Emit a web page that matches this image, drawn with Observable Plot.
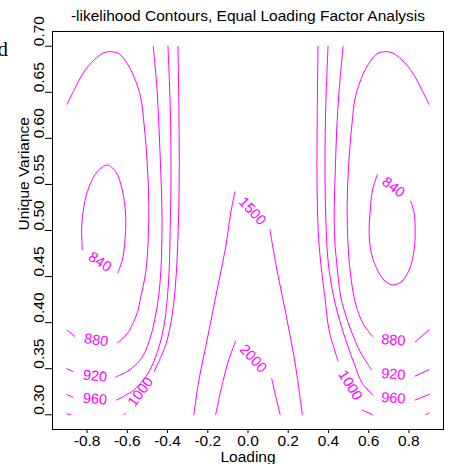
<!DOCTYPE html>
<html><head><meta charset="utf-8">
<script src="https://cdn.jsdelivr.net/npm/d3@7"></script>
<script src="https://cdn.jsdelivr.net/npm/@observablehq/plot@0.6"></script>
<style>body{margin:0;background:#fff}#chart{width:458px;height:464px}</style>
</head><body><div id="chart"></div>
<script>
// ---- data (Loading, Unique Variance) ----
const xTicks = [-0.8, -0.6, -0.4, -0.2, 0, 0.2, 0.4, 0.6, 0.8];
const yTicks = [0.30, 0.35, 0.40, 0.45, 0.50, 0.55, 0.60, 0.65, 0.70];
const levels = [840, 880, 920, 960, 1000, 1500, 2000];

const c840L = [[-0.824,0.479],[-0.827,0.504],[-0.816,0.526],[-0.791,0.547],[-0.749,0.564],[-0.700,0.571],[-0.658,0.564],[-0.625,0.544],[-0.608,0.515],[-0.613,0.486],[-0.625,0.468],[-0.647,0.454]];
const c840R = [[0.644,0.561],[0.619,0.544],[0.607,0.519],[0.602,0.500],[0.610,0.479],[0.635,0.461],[0.677,0.446],[0.718,0.441],[0.760,0.444],[0.801,0.457],[0.826,0.479],[0.831,0.500],[0.826,0.519],[0.809,0.532]];

const c880La = [[-0.900,0.637],[-0.866,0.652],[-0.816,0.672],[-0.766,0.685],[-0.716,0.693],[-0.680,0.694],[-0.642,0.692],[-0.600,0.681],[-0.567,0.667],[-0.534,0.645],[-0.517,0.616],[-0.500,0.569],[-0.493,0.526],[-0.498,0.482],[-0.509,0.454],[-0.534,0.427],[-0.550,0.411],[-0.575,0.398],[-0.600,0.388],[-0.650,0.378]];
const c880Lb = [[-0.861,0.385],[-0.900,0.392]];
const c880Ra = [[0.900,0.637],[0.866,0.652],[0.816,0.672],[0.766,0.685],[0.716,0.693],[0.680,0.694],[0.642,0.692],[0.600,0.681],[0.567,0.667],[0.534,0.645],[0.517,0.616],[0.500,0.569],[0.493,0.526],[0.498,0.482],[0.509,0.454],[0.527,0.428],[0.550,0.410],[0.577,0.397],[0.619,0.385]];
const c880Rb = [[0.831,0.379],[0.900,0.392]];

const c920La = [[-0.900,0.350],[-0.871,0.347]];
const c920Lb = [[-0.658,0.341],[-0.608,0.346],[-0.559,0.354],[-0.517,0.366],[-0.484,0.385],[-0.462,0.405],[-0.444,0.429],[-0.433,0.457],[-0.428,0.490],[-0.428,0.525],[-0.434,0.565],[-0.442,0.609],[-0.452,0.652],[-0.471,0.700]];
const c920Ra = [[0.473,0.700],[0.453,0.652],[0.441,0.609],[0.434,0.565],[0.429,0.525],[0.431,0.490],[0.441,0.465],[0.461,0.428],[0.486,0.408],[0.511,0.392],[0.561,0.367],[0.614,0.349]];
const c920Rb = [[0.831,0.342],[0.900,0.349]];

const c960La = [[-0.900,0.322],[-0.871,0.319]];
const c960Lb = [[-0.653,0.316],[-0.567,0.327],[-0.500,0.344],[-0.451,0.368],[-0.419,0.395],[-0.402,0.425],[-0.392,0.457],[-0.387,0.500],[-0.383,0.555],[-0.385,0.620],[-0.391,0.663],[-0.398,0.700]];
const c960Ra = [[0.398,0.700],[0.391,0.663],[0.385,0.620],[0.383,0.555],[0.389,0.500],[0.399,0.465],[0.426,0.428],[0.470,0.392],[0.527,0.356],[0.569,0.334],[0.619,0.322]];
const c960Rb = [[0.831,0.316],[0.900,0.322]];

const c1000La = [[-0.348,0.700],[-0.343,0.620],[-0.342,0.555],[-0.347,0.500],[-0.357,0.452],[-0.377,0.408],[-0.409,0.376],[-0.467,0.347]];
const c1000Lb = [[-0.608,0.302],[-0.617,0.300]];
const c1000Lc = [[-0.900,0.301],[-0.882,0.300]];
const c1000Ra = [[0.348,0.700],[0.344,0.620],[0.343,0.555],[0.349,0.500],[0.362,0.464],[0.382,0.428],[0.403,0.392],[0.448,0.358]];
const c1000Rb = [[0.569,0.305],[0.619,0.300]];
const c1000Rc = [[0.884,0.300],[0.900,0.302]];

const c1500L = [[-0.065,0.542],[-0.086,0.519],[-0.111,0.482],[-0.144,0.446],[-0.177,0.410],[-0.210,0.374],[-0.244,0.338],[-0.269,0.300]];
const c1500R = [[0.109,0.501],[0.138,0.464],[0.171,0.428],[0.204,0.392],[0.237,0.352],[0.270,0.300]];
const c2000L = [[-0.061,0.380],[-0.095,0.360],[-0.127,0.334],[-0.161,0.300]];
const c2000R = [[0.118,0.339],[0.138,0.320],[0.160,0.300]];

// contour labels: level, position (data units), text angle
const labelLevel = [840, 840, 880, 880, 920, 920, 960, 960, 1000, 1000, 1500, 2000];
const labelX     = [-0.736, 0.723, -0.755, 0.723, -0.761, 0.723, -0.761, 0.723, -0.534, 0.508, 0.022, 0.026];
const labelY     = [0.466, 0.547, 0.381, 0.381, 0.342, 0.344, 0.317, 0.318, 0.325, 0.332, 0.521, 0.361];
const labelAngle = [33, 38, 8, 4, 6, 4, 5, 4, -54, 58, 47, 47];

const title = "-likelihood Contours, Equal Loading Factor Analysis";
const xLabel = "Loading";
const yLabel = "Unique Variance";

// ---- build tables ----
const segments = [
  [840, c840L], [840, c840R],
  [880, c880La], [880, c880Lb], [880, c880Ra], [880, c880Rb],
  [920, c920La], [920, c920Lb], [920, c920Ra], [920, c920Rb],
  [960, c960La], [960, c960Lb], [960, c960Ra], [960, c960Rb],
  [1000, c1000La], [1000, c1000Lb], [1000, c1000Lc], [1000, c1000Ra], [1000, c1000Rb], [1000, c1000Rc],
  [1500, c1500L], [1500, c1500R], [2000, c2000L], [2000, c2000R]
];
const rows = segments.flatMap(([level, pts], i) => pts.map(([x, y]) => ({seg: i, level, x, y})));
const labels = labelLevel.map((level, i) => ({level, x: labelX[i], y: labelY[i], angle: labelAngle[i]}));

const magenta = "#ff00ff";
const font = "'Liberation Sans', Arial, Helvetica, sans-serif";

const chart = Plot.plot({
  width: 458, height: 464,
  marginLeft: 52, marginRight: 15, marginTop: 31, marginBottom: 35,
  style: {fontFamily: font, background: "#fff", color: "#000", overflow: "visible"},
  x: {domain: [-0.972, 0.972], axis: null},
  y: {domain: [0.284, 0.716], axis: null},
  marks: [
    Plot.line(rows, {x: "x", y: "y", z: "seg", stroke: magenta, strokeWidth: 1, curve: "catmull-rom"}),
    Plot.text(labels, {x: "x", y: "y", text: d => String(d.level), rotate: "angle", fill: magenta, fontSize: 14.5}),
    Plot.frame({stroke: "#000"}),
    Plot.axisX({ticks: xTicks, tickSize: 4, fill: "none", stroke: "#000"}),
    Plot.axisY({ticks: yTicks, tickSize: 7, fill: "none", stroke: "#000"}),
    Plot.text(xTicks, {x: d => d, frameAnchor: "bottom", lineAnchor: "top", dy: 5, text: d => d.toFixed(1), fontSize: 15.5, fill: "#000"}),
    Plot.text(yTicks, {y: d => d, frameAnchor: "left", lineAnchor: "bottom", dx: -9, rotate: -90, text: d => d.toFixed(2), fontSize: 15.5, fill: "#000"}),
    Plot.text([xLabel], {frameAnchor: "bottom", lineAnchor: "bottom", dy: 32, text: d => d, fontSize: 15.5, fill: "#000"}),
    Plot.text([yLabel], {frameAnchor: "left", lineAnchor: "bottom", dx: -24, rotate: -90, text: d => d, fontSize: 15.5, fill: "#000"}),
    Plot.text([title], {frameAnchor: "top", lineAnchor: "bottom", dy: -10.5, text: d => d, fontSize: 15.5, fill: "#000"}),
    Plot.text(["d"], {frameAnchor: "top-left", textAnchor: "end", lineAnchor: "bottom", dx: -44.5, dy: 24, text: d => d, fontSize: 21, fontFamily: "'Liberation Serif', 'DejaVu Serif', serif", fill: "#000"})
  ]
});
document.getElementById("chart").appendChild(chart);
</script>
</body></html>
